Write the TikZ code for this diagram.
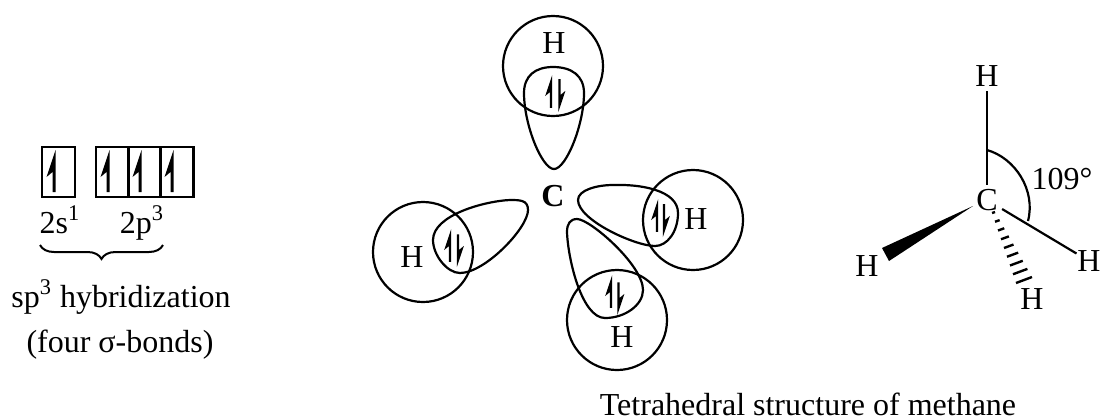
\documentclass[tikz,border=0pt]{standalone}
\usepackage{fontspec}
\setmainfont{Liberation Serif}
\usepackage{tikz}
\usetikzlibrary{calc,decorations.pathreplacing}

\begin{document}
\begin{tikzpicture}[
  x=0.5pt,y=-0.5pt,
  every node/.style={font=\fontsize{16}{19}\selectfont,align=center,inner sep=2pt},
  orb/.style={draw,line width=1.1pt,minimum width=16.5pt,minimum height=25pt,inner sep=0pt,outer sep=0pt},
  atom/.style={draw,circle,line width=1.1pt,minimum size=50pt,inner sep=0pt,outer sep=0pt},
  lobe/.style={line width=1.1pt},
  bond/.style={line width=1.1pt},
  hash/.style={line width=1.2pt},
  spin/.pic={
    \fill (1.5,0) -- (-7.5,27) -- (-1.5,22) -- (-1.5,42) -- (1.5,42) -- cycle;
  }
]
  \useasboundingbox (0,0) rectangle (1101,419);
  \node[orb] (s) at (58.5,172) {};
  \node[orb] (p1) at (112.5,172) {};
  \node[orb] (p2) at (144.5,172) {};
  \node[orb] (p3) at (177,172) {};
  \foreach \x in {54,108,140,172}
    \pic at (\x,150) {spin};
  \node[anchor=base] (l2s) at (60,233) {2s\textsuperscript{1}};
  \node[anchor=base] (l2p) at (142,233) {2p\textsuperscript{3}};
  \coordinate (brL) at (40,245);
  \coordinate (brR) at (163,245);
  \draw[line width=1pt,decorate,decoration={brace,mirror,amplitude=7pt}] (brL) -- (brR);
  \node[anchor=base] (hyb) at (121,307) {sp\textsuperscript{3} hybridization};
  \node[anchor=base] (four) at (120,352) {(four σ-bonds)};

  \node[atom] (a1) at (553,66) {};
  \node[atom] (a2) at (693,220) {};
  \node[atom] (a3) at (423,252) {};
  \node[atom] (a4) at (617,320) {};
  \node (h1) at (554,43) {H};
  \node (h2) at (696,219) {H};
  \node (h3) at (412,257) {H};
  \node (h4) at (622,337) {H};
  \node[font=\fontsize{16}{19}\selectfont\bfseries] (c) at (553,196) {C};
  \draw[lobe] (554,169) .. controls (566,169) and (584,125) .. (584,93) .. controls (584,76) and (572,67) .. (553,67) .. controls (535,67) and (524,76) .. (524,93) .. controls (524,125) and (542,169) .. (554,169) -- cycle;
  \draw[lobe] (578,200) .. controls (578,190) and (597,185) .. (613,185) .. controls (640,184) and (678,190) .. (678,213) .. controls (678,232) and (667,246) .. (655,246) .. controls (635,246) and (578,220) .. (578,200) -- cycle;
  \draw[lobe] (528,210) .. controls (528,200) and (520,200) .. (510,200) .. controls (485,201) and (433,215) .. (433,240) .. controls (433,255) and (447,273) .. (460,273) .. controls (485,273) and (528,228) .. (528,210) -- cycle;
  \draw[lobe] (577,219) .. controls (570,219) and (567,224) .. (567,232) .. controls (568,260) and (582,318) .. (605,318) .. controls (625,318) and (643,305) .. (643,290) .. controls (643,265) and (590,219) .. (577,219) -- cycle;
  \foreach \x/\y in {551/75,657/199,450/229,611/275}
    \pic[scale=.78] at (\x,\y) {spin};
  \foreach \x/\y in {559.5/112,664/237,458/267,618.5/315}
    \pic[scale=.78,rotate=180] at (\x,\y) {spin};

  \node (mC) at (987,200) {C};
  \node (mH1) at (987,76) {H};
  \node (mH2) at (1089,261) {H};
  \node (mH3) at (867,266) {H};
  \node (mH4) at (1032,299) {H};
  \node (ang) at (1062,179) {109°};
  \draw[bond] (mC) -- (mH1);
  \draw[bond,shorten >=-2pt] (mC) -- (mH2);
  \coordinate (w1) at (973,206);
  \coordinate (w2) at (882,248);
  \coordinate (w3) at (889,261);
  \fill (w1) -- (w2) -- (w3) -- cycle;
  \coordinate (hL0) at (992,213);
  \coordinate (hR0) at (995,212);
  \coordinate (hL1) at (1016,283);
  \coordinate (hR1) at (1032,277);
  \foreach \t in {0,0.125,...,1.01}
    \draw[hash] ($(hL0)!\t!(hL1)$) -- ($(hR0)!\t!(hR1)$);
  \coordinate (arcA) at (987,150);
  \coordinate (arcB) at (1028,221);
  \draw[bond] (arcA) .. controls (1015,158) and (1036,190) .. (arcB);

  \node[anchor=base] (cap) at (808,415) {Tetrahedral structure of methane};
\end{tikzpicture}
\end{document}
